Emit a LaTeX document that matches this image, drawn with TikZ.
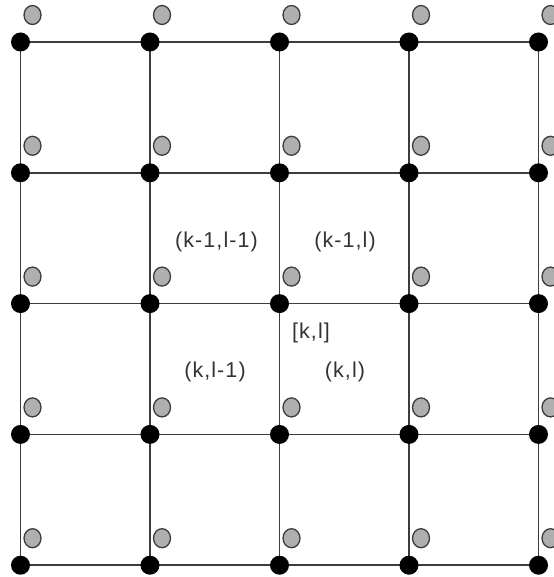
\documentclass[tikz,border=0pt]{standalone}
\usepackage{fontspec}
\setmainfont{Liberation Sans}
\newfontfamily\cellfont[LetterSpace=5]{Liberation Sans}
\usetikzlibrary{shapes.geometric,positioning}
\definecolor{gridline}{RGB}{60,60,60}
\definecolor{ghostfill}{RGB}{175,175,175}
\tikzset{
  vertex/.style={circle, fill=black, inner sep=0pt, minimum size=19pt},
  ghost/.style={ellipse, draw=gridline, line width=1.3pt, fill=ghostfill, inner sep=0pt, minimum width=17pt, minimum height=19pt},
  edge/.style={draw=gridline, line width=1.6pt},
  cell/.style={font=\cellfont\fontsize{21.5}{25}\selectfont, text=black!80}
}
\begin{document}
\begin{tikzpicture}[x=1pt, y=-1pt]
  \useasboundingbox (0,0) rectangle (553,577);
  % grid points
  \foreach \i in {0,...,4} {
    \foreach \j in {0,...,4} {
      \coordinate (v-\i-\j) at (20.5+129.5*\i, 42+130.8*\j);
    }
  }
  % grid lines
  \foreach \i in {0,...,4} {
    \draw[edge] (v-\i-0) -- (v-\i-4);
    \draw[edge] (v-0-\i) -- (v-4-\i);
  }
  \draw[edge, line width=2.6pt] (v-1-0) -- (v-1-4);
  % shifted points
  \foreach \i in {0,...,4} {
    \foreach \j in {0,...,4} {
      \node[ghost] (g-\i-\j) at ([xshift=12pt, yshift=27pt] v-\i-\j) {};
      \node[vertex] (n-\i-\j) at (v-\i-\j) {};
    }
  }
  % cell labels
  \node[cell] (c11) at (216.5,242) {(k-1,l-1)};
  \node[cell] (c21) at (345,242) {(k-1,l)};
  \node[cell] (c12) at (215,372) {(k,l-1)};
  \node[cell] (c22) at (345,372) {(k,l)};
  \node[cell] (kl) at (311,333) {[k,l]};
\end{tikzpicture}
\end{document}
